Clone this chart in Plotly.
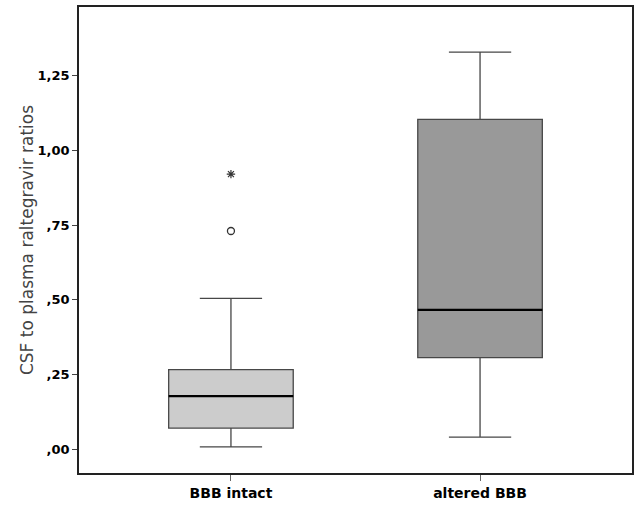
import plotly.graph_objects as go

# Data
groups = ["BBB intact", "altered BBB"]
lower_whisker = [0.009, 0.042]
q1_vals = [0.072, 0.307]
median_vals = [0.179, 0.467]
q3_vals = [0.267, 1.103]
upper_whisker = [0.505, 1.327]
fill_colors = ["#cccccc", "#999999"]

outlier_circle = [0.730]   # BBB intact, mild outlier
outlier_star = [0.920]     # BBB intact, extreme outlier

ytick_vals = [0.0, 0.25, 0.5, 0.75, 1.0, 1.25]
ytick_text = [",00", ",25", ",50", ",75", "1,00", "1,25"]

box_width = 0.5
xpos = list(range(len(groups)))

fig = go.Figure()
for i, g in enumerate(groups):
    fig.add_trace(go.Box(
        x=[xpos[i]], q1=[q1_vals[i]], median=[median_vals[i]], q3=[q3_vals[i]],
        lowerfence=[lower_whisker[i]], upperfence=[upper_whisker[i]],
        width=box_width, whiskerwidth=0.5,
        fillcolor=fill_colors[i], line=dict(color="#474747", width=1.3),
        boxpoints=False, showlegend=False, hoverinfo="skip", name=g,
    ))
    # thicker median line
    fig.add_trace(go.Scatter(
        x=[xpos[i] - box_width / 2, xpos[i] + box_width / 2],
        y=[median_vals[i], median_vals[i]],
        mode="lines", line=dict(color="black", width=2.2),
        showlegend=False, hoverinfo="skip",
    ))

fig.add_trace(go.Scatter(
    x=[xpos[0]] * len(outlier_circle), y=outlier_circle, mode="markers",
    marker=dict(symbol="circle-open", size=7, color="#333333", line=dict(width=1.3)),
    showlegend=False, hoverinfo="skip",
))
fig.add_trace(go.Scatter(
    x=[xpos[0]] * len(outlier_star), y=outlier_star, mode="markers",
    marker=dict(symbol="asterisk-open", size=7, color="#333333", line=dict(width=1.2, color="#333333")),
    showlegend=False, hoverinfo="skip",
))

fig.update_layout(
    width=640, height=506,
    margin=dict(l=79, r=8, t=5, b=33),
    paper_bgcolor="white", plot_bgcolor="white",
    font=dict(family="DejaVu Sans", color="black"),
    xaxis=dict(
        range=[-0.61, 1.61], tickvals=xpos, ticktext=groups,
        tickfont=dict(size=14, family="DejaVu Sans", weight="bold", color="black"),
        ticks="outside", ticklen=6, tickcolor="#666666", tickwidth=1,
        showline=True, linecolor="#222222", linewidth=1.5, mirror=True,
        showgrid=False, zeroline=False,
    ),
    yaxis=dict(
        range=[-0.078, 1.478], tickvals=ytick_vals, ticktext=ytick_text,
        tickfont=dict(size=13, family="DejaVu Sans", weight="bold", color="black"),
        ticks="outside", ticklen=5, tickcolor="#444444", tickwidth=1,
        showline=True, linecolor="#222222", linewidth=1.5, mirror=True,
        showgrid=False, zeroline=False,
        title=dict(text="CSF to plasma raltegravir ratios",
                   font=dict(size=17, family="DejaVu Sans", color="#444444"),
                   standoff=0),
    ),
)

fig.write_html("out.html", config={"displayModeBar": False},
               post_script="document.body.style.margin='0';")
